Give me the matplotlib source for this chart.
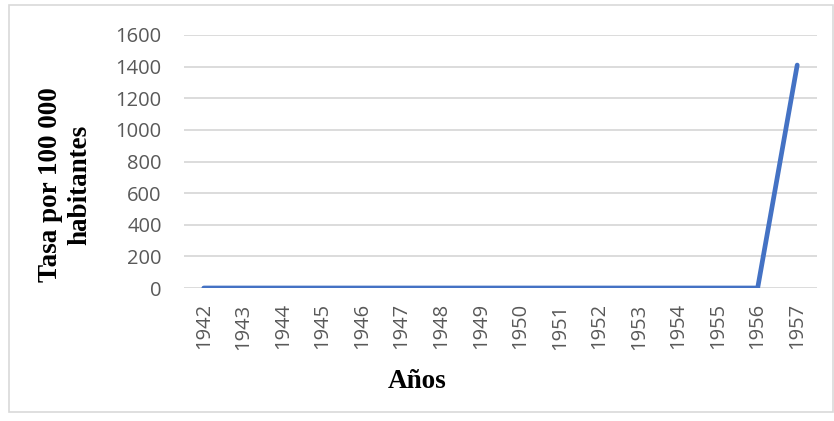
import matplotlib
matplotlib.use("Agg")
import matplotlib.pyplot as plt
from matplotlib.patches import Rectangle

# datos
years = [1942, 1943, 1944, 1945, 1946, 1947, 1948, 1949,
         1950, 1951, 1952, 1953, 1954, 1955, 1956, 1957]
rates = [0, 0, 0, 0, 0, 0, 0, 0, 0, 0, 0, 0, 0, 0, 0, 1410]
yticks = [0, 200, 400, 600, 800, 1000, 1200, 1400, 1600]

W, H = 834, 421
fig = plt.figure(figsize=(W / 100, H / 100), dpi=100)
ax = fig.add_axes([184 / W, 1 - 288 / H, (817 - 184) / W, (288 - 35) / H])

x = list(range(len(years)))
ax.plot(x, rates, color="#4472C4", lw=3.4, solid_capstyle="round",
        solid_joinstyle="round", zorder=3)

ax.set_xlim(-0.5, len(years) - 0.5)
ax.set_ylim(0, 1600)
ax.set_yticks(yticks)
ax.set_xticks(x)
ax.set_xticklabels([str(y) for y in years], rotation=90)
ax.grid(axis="y", color="#d9d9d9", lw=1.3)
ax.set_axisbelow(True)
for s in ax.spines.values():
    s.set_visible(False)
ax.tick_params(length=0, labelsize=14.5, labelcolor="#595959")
ax.tick_params(axis="y", pad=16)
ax.tick_params(axis="x", pad=11)
for lab in ax.get_xticklabels() + ax.get_yticklabels():
    lab.set_family("Open Sans")

fig.text(65 / W, 1 - 185 / H, "Tasa por 100 000\nhabitantes", rotation=90,
         ha="center", va="center", family="Liberation Serif",
         fontweight="bold", fontsize=19.5, linespacing=1.2)
fig.text(417 / W, 1 - 381 / H, "Años", ha="center", va="center",
         family="Liberation Serif", fontweight="bold", fontsize=19.5)

fig.patches.append(Rectangle((9 / W, 1 - 412 / H), (833 - 9) / W, (412 - 5) / H,
                             transform=fig.transFigure, fill=False,
                             edgecolor="#d9d9d9", lw=1.2))

fig.savefig("out.png", dpi=100)
